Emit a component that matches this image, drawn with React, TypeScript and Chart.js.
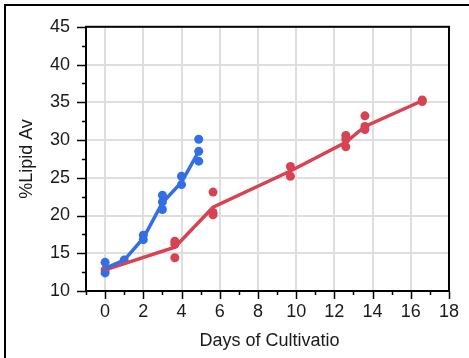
import { useEffect, useRef } from "react";
import { Chart, registerables } from "chart.js";

Chart.register(...registerables);

const FONT = '"Liberation Sans", Arial, Helvetica, sans-serif';

// Individual measurements
const blueDays = [0, 0, 1, 2, 2, 3, 3, 3, 4, 4, 4.9, 4.9, 4.9];
const blueLipid = [13.8, 12.4, 14.1, 17.4, 16.8, 22.7, 21.8, 20.8, 25.2, 24.1, 30.1, 28.5, 27.2];
const redDays = [0, 3.65, 3.65, 3.65, 5.65, 5.65, 5.65, 9.7, 9.7, 12.6, 12.6, 12.6, 13.6, 13.6, 13.6, 16.6, 16.6];
const redLipid = [12.8, 16.6, 16.2, 14.4, 23.1, 20.4, 20.1, 26.5, 25.2, 30.6, 30.1, 29.1, 33.2, 31.8, 31.4, 35.3, 35.1];

// Mean trend lines
const blueTrendDays = [0, 1, 2, 3, 4, 4.9];
const blueTrendLipid = [13.0, 14.1, 17.0, 21.7, 24.4, 28.5];
const redTrendDays = [0, 3.65, 5.65, 9.7, 12.6, 13.6, 16.6];
const redTrendLipid = [12.8, 15.8, 21.1, 25.9, 29.7, 31.8, 35.2];

const xMin = -1;
const xMax = 18;
const yMin = 10;
const yMax = 45;

const BLUE = "#336ee6";
const RED = "#d84353";
const GRID = "#dedede";

const toPoints = (xs: number[], ys: number[]) => xs.map((x, i) => ({ x, y: ys[i] }));

const framePlugin = {
  id: "frameAndTicks",
  afterDraw(chart: any) {
    const ctx = chart.ctx as CanvasRenderingContext2D;
    const { left, right, top, bottom } = chart.chartArea;
    const xs = chart.scales.x;
    const ys = chart.scales.y;
    ctx.save();
    ctx.strokeStyle = "#000";
    ctx.lineWidth = 1.5;
    // x tick marks
    for (let v = xMin; v <= xMax; v += 1) {
      const px = Math.round(xs.getPixelForValue(v)) + 0.5;
      const len = v % 2 === 0 ? 8 : 4;
      ctx.beginPath();
      ctx.moveTo(px, bottom);
      ctx.lineTo(px, bottom + len);
      ctx.stroke();
    }
    // y tick marks
    for (let v = yMin; v <= yMax; v += 2.5) {
      const py = Math.round(ys.getPixelForValue(v)) + 0.5;
      const len = v % 5 === 0 ? 9 : 4;
      ctx.beginPath();
      ctx.moveTo(left - len, py);
      ctx.lineTo(left, py);
      ctx.stroke();
    }
    // plot frame
    ctx.lineWidth = 2;
    ctx.strokeRect(left, top, right - left, bottom - top);
    // outer figure frame
    ctx.beginPath();
    ctx.moveTo(5, 358);
    ctx.lineTo(5, 5);
    ctx.lineTo(469, 5);
    ctx.stroke();
    // axis titles
    ctx.fillStyle = "#1a1a1a";
    ctx.font = `18px ${FONT}`;
    ctx.textAlign = "center";
    ctx.textBaseline = "middle";
    ctx.fillText("Days of Cultivatio", (left + right) / 2 + 2, 341);
    ctx.translate(27, 159);
    ctx.rotate(-Math.PI / 2);
    ctx.fillText("%Lipid Av", 0, 0);
    ctx.restore();
  },
};

export default function App() {
  const canvasRef = useRef<HTMLCanvasElement | null>(null);

  useEffect(() => {
    document.body.style.margin = "0";
    const canvas = canvasRef.current;
    if (!canvas) return;
    const chart = new Chart(canvas, {
      type: "scatter",
      data: {
        datasets: [
          {
            label: "blue trend",
            data: toPoints(blueTrendDays, blueTrendLipid),
            showLine: true,
            borderColor: BLUE,
            backgroundColor: BLUE,
            borderWidth: 3.5,
            pointRadius: 0,
          },
          {
            label: "red trend",
            data: toPoints(redTrendDays, redTrendLipid),
            showLine: true,
            borderColor: RED,
            backgroundColor: RED,
            borderWidth: 3.5,
            pointRadius: 0,
          },
          {
            label: "blue",
            data: toPoints(blueDays, blueLipid),
            borderColor: BLUE,
            backgroundColor: BLUE,
            pointRadius: 4.5,
            borderWidth: 0,
          },
          {
            label: "red",
            data: toPoints(redDays, redLipid),
            borderColor: RED,
            backgroundColor: RED,
            pointRadius: 4.5,
            borderWidth: 0,
          },
        ],
      },
      options: {
        animation: false,
        responsive: false,
        devicePixelRatio: 1,
        layout: { padding: { left: 0, top: 17, right: 17, bottom: 0 } },
        plugins: {
          legend: { display: false },
          tooltip: { enabled: false },
        },
        scales: {
          x: {
            type: "linear",
            min: xMin,
            max: xMax,
            afterFit: (s: any) => {
              s.height = 67;
            },
            border: { display: false },
            grid: {
              drawTicks: false,
              lineWidth: 2,
              color: (c: any) => {
                const v = c.tick?.value;
                return v >= 0 && v < xMax && v % 2 === 0 ? GRID : "rgba(0,0,0,0)";
              },
            },
            ticks: {
              stepSize: 1,
              autoSkip: false,
              maxRotation: 0,
              padding: 10,
              color: "#1a1a1a",
              font: { family: FONT, size: 18 },
              callback: (v: any) => (v >= 0 && v % 2 === 0 ? String(v) : ""),
            },
          },
          y: {
            type: "linear",
            min: yMin,
            max: yMax,
            afterFit: (s: any) => {
              s.width = 86;
            },
            border: { display: false },
            grid: {
              drawTicks: false,
              lineWidth: 2,
              color: (c: any) => {
                const v = c.tick?.value;
                return v > yMin && v < yMax && v % 5 === 0 ? GRID : "rgba(0,0,0,0)";
              },
            },
            ticks: {
              stepSize: 2.5,
              autoSkip: false,
              padding: 16,
              color: "#1a1a1a",
              font: { family: FONT, size: 18 },
              callback: (v: any) => (v % 5 === 0 ? String(v) : ""),
            },
          },
        },
      },
      plugins: [framePlugin],
    });
    return () => chart.destroy();
  }, []);

  return (
    <div style={{ position: "fixed", left: 0, top: 0, width: 469, height: 358, background: "#fff" }}>
      <canvas ref={canvasRef} width={469} height={358} style={{ display: "block" }} />
    </div>
  );
}
